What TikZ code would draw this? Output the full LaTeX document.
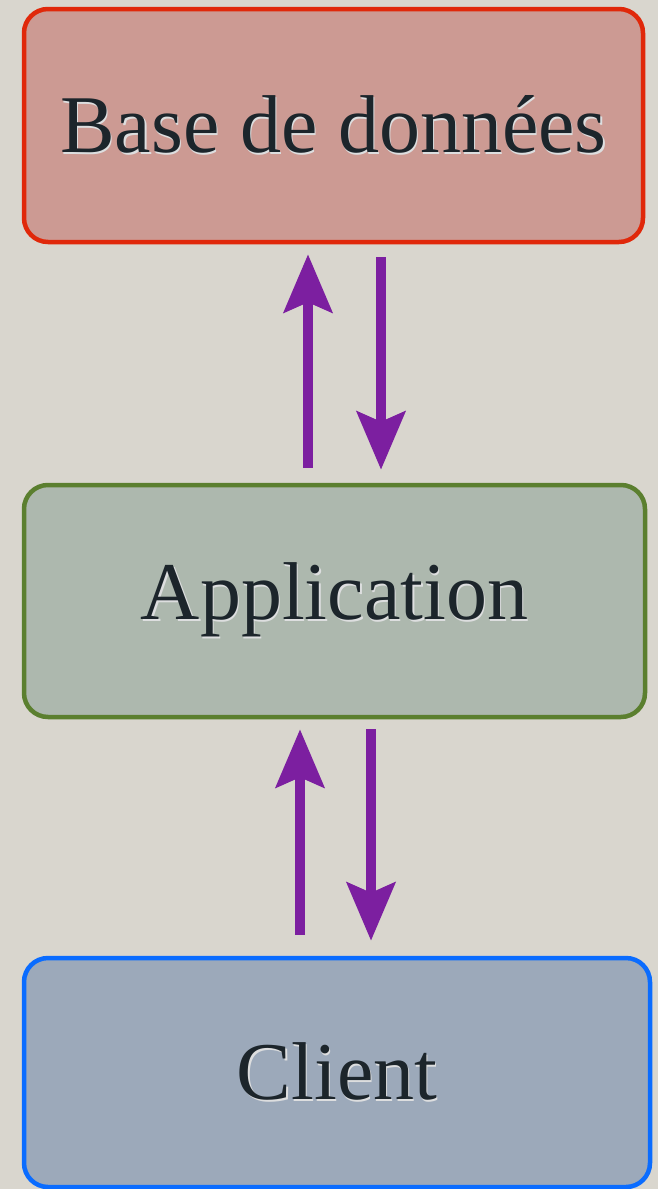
\documentclass[tikz,border=0pt]{standalone}
\usepackage{fontspec}
\setmainfont{Liberation Serif}
\usepackage{tikz}
\usetikzlibrary{arrows.meta,positioning}
\definecolor{stone}{HTML}{D9D6CE}
\definecolor{dbfill}{HTML}{CC9A93}
\definecolor{dbline}{HTML}{E0280A}
\definecolor{appfill}{HTML}{ADB8AE}
\definecolor{appline}{HTML}{5B7F2F}
\definecolor{clifill}{HTML}{9CA9BA}
\definecolor{cliline}{HTML}{0A6CFF}
\definecolor{flowpurple}{HTML}{7C1FA0}
\definecolor{ink}{HTML}{1C252B}
\newcommand{\glowtext}[1]{\makebox[0pt][l]{\raisebox{-2pt}{\hspace{1.5pt}\textcolor{white!85!ink}{#1}}}#1}

\begin{document}
\begin{tikzpicture}[x=1pt,y=-1pt,
  tier/.style={rounded corners=24pt,line width=4.5pt,minimum width=#1,
    font=\fontsize{82}{90}\selectfont,text=ink},
  flow/.style={line width=10.5pt,flowpurple,-{Stealth[length=58pt,width=48pt,inset=10pt]}}]
  \fill[stone] (0,0) rectangle (658,1189);
  \useasboundingbox (0,0) rectangle (658,1189);
  \node[tier=619pt,minimum height=233pt,draw=dbline,fill=dbfill] (db) at (333.5,125.5) {\glowtext{Base de données}};
  \node[tier=621pt,minimum height=232pt,draw=appline,fill=appfill] (app) at (334.5,601) {\glowtext{Application}};
  \node[tier=626pt,minimum height=229pt,draw=cliline,fill=clifill] (client) at (337,1072.5) {\glowtext{Client}};
  % columns of the four arrows
  \coordinate (upA) at (308,0);
  \coordinate (downA) at (381,0);
  \coordinate (upB) at (300,0);
  \coordinate (downB) at (371,0);
  \draw[flow] ([yshift=15pt]app.north -| upA) -- ([yshift=-10pt]db.south -| upA);
  \draw[flow] ([yshift=-13pt]db.south -| downA) -- ([yshift=13pt]app.north -| downA);
  \draw[flow] ([yshift=21pt]client.north -| upB) -- ([yshift=-10pt]app.south -| upB);
  \draw[flow] ([yshift=-10pt]app.south -| downB) -- ([yshift=15pt]client.north -| downB);
\end{tikzpicture}
\end{document}
